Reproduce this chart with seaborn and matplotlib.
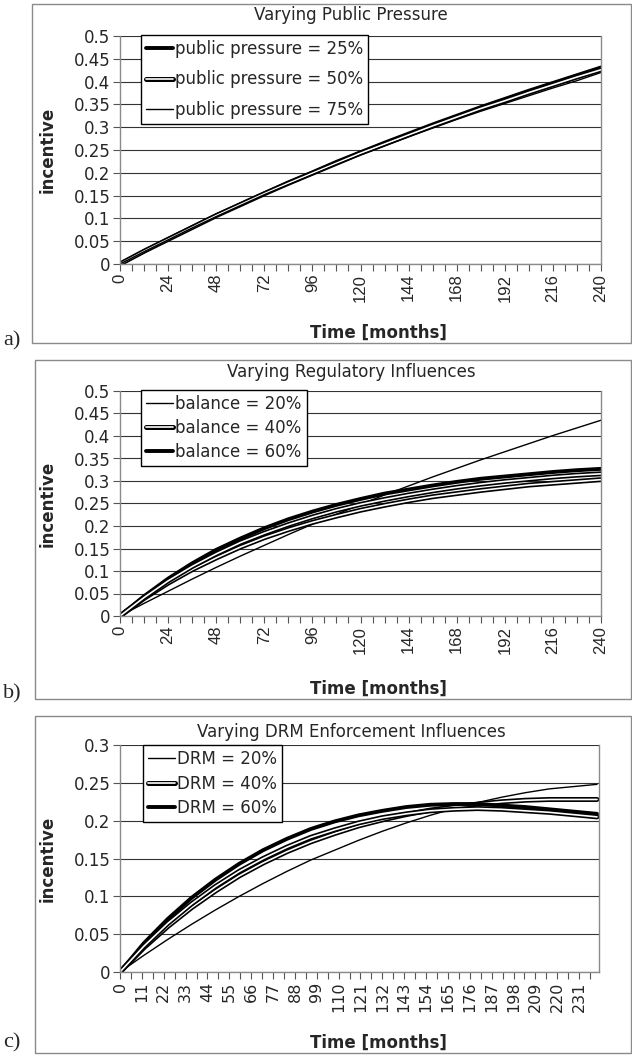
import numpy as np
import pandas as pd
import seaborn as sns
import matplotlib.pyplot as plt
import matplotlib.patheffects as pe
from matplotlib.patches import Rectangle
from matplotlib.ticker import MultipleLocator

months = list(range(0, 241, 12))

# a) public pressure
pp_labels = ["public pressure = 25%", "public pressure = 50%", "public pressure = 75%"]
pp_25 = [0, .028, .055, .081, .107, .131, .155, .179, .201, .224, .245, .266, .286, .306, .325, .344, .362, .380, .397, .414, .431]
pp_50 = [0, .028, .054, .080, .106, .130, .154, .177, .199, .221, .243, .263, .283, .303, .322, .341, .358, .376, .393, .410, .426]
pp_75 = [0, .027, .053, .079, .104, .128, .152, .174, .196, .218, .239, .259, .279, .298, .317, .335, .352, .369, .386, .402, .420]

# b) regulatory balance
bal_labels = ["balance = 20%", "balance = 40%", "balance = 60%", "balance = 80%"]
bal_20 = [0, .028, .055, .082, .108, .133, .157, .181, .204, .226, .248, .269, .289, .309, .328, .347, .365, .383, .401, .418, .435]
bal_40 = [0, .039, .073, .103, .129, .153, .174, .192, .208, .222, .235, .246, .256, .265, .272, .279, .285, .291, .295, .299, .303]
bal_60 = [0, .044, .083, .117, .147, .172, .195, .215, .232, .247, .260, .272, .281, .290, .298, .305, .310, .315, .320, .324, .327]
bal_80 = [0, .041, .078, .110, .138, .163, .184, .203, .220, .235, .248, .259, .269, .278, .286, .293, .299, .304, .309, .313, .316]

# c) DRM enforcement
drm_labels = ["DRM = 20%", "DRM = 40%", "DRM = 60%", "DRM = 80%"]
drm_20 = [0, .022, .043, .063, .082, .100, .117, .133, .148, .161, .174, .186, .197, .207, .216, .224, .231, .237, .242, .245, .248]
drm_40 = [0, .032, .060, .085, .107, .127, .144, .159, .172, .183, .193, .201, .208, .214, .218, .222, .225, .227, .228, .228, .228]
drm_60 = [0, .038, .070, .098, .122, .143, .161, .176, .189, .199, .207, .213, .218, .221, .222, .222, .220, .218, .215, .212, .209]
drm_80 = [0, .034, .064, .090, .113, .133, .150, .165, .178, .188, .197, .204, .209, .213, .215, .216, .215, .213, .211, .208, .205]

y_ticks_a = [0, 0.05, 0.1, 0.15, 0.2, 0.25, 0.3, 0.35, 0.4, 0.45, 0.5]
y_tick_labels_a = ["0", "0.05", "0.1", "0.15", "0.2", "0.25", "0.3", "0.35", "0.4", "0.45", "0.5"]
y_ticks_c = [0, 0.05, 0.1, 0.15, 0.2, 0.25, 0.3]
y_tick_labels_c = ["0", "0.05", "0.1", "0.15", "0.2", "0.25", "0.3"]
x_ticks_ab = list(range(0, 241, 24))
x_ticks_c = list(range(0, 232, 11))

sns.set_style("white")
plt.rcParams["font.family"] = ["DejaVu Sans"]

W, H = 632, 1057
fig = plt.figure(figsize=(W / 100, H / 100), dpi=100)


def rect(x0, y0, x1, y1):
    return [x0 / W, 1 - y1 / H, (x1 - x0) / W, (y1 - y0) / H]


styles = {
    "thick": dict(color="black", lw=2.8),
    "thin": dict(color="black", lw=1.0),
    "double": dict(color="white", lw=1.2,
                   path_effects=[pe.Stroke(linewidth=3.6, foreground="black"), pe.Normal()]),
}


def panel(box, axbox, title, title_y, series, legend_n, yticks, ylabels, ymax,
          xticks, minor, xmax, xfont, xsize, leg_box, labelspacing, letter, letter_y, xlabel_y):
    fig.add_artist(Rectangle((box[0] / W, 1 - box[3] / H), (box[2] - box[0]) / W,
                             (box[3] - box[1]) / H, transform=fig.transFigure,
                             fill=False, edgecolor="#8a8a8a", lw=1.0))
    ax = fig.add_axes(rect(*axbox))
    for vals, lab, st in series:
        sns.lineplot(x=months, y=vals, ax=ax, label=lab, legend=False, **styles[st])
    ax.set_xlim(0, xmax)
    ax.set_ylim(0, ymax)
    ax.set_yticks(yticks)
    ax.set_yticklabels(ylabels, fontsize=12)
    ax.set_xticks(xticks)
    ax.set_xticklabels([str(t) for t in xticks], rotation=90, fontsize=xsize,
                       family=xfont)
    ax.xaxis.set_minor_locator(MultipleLocator(minor))
    ax.tick_params(axis="both", which="major", direction="out", length=5, width=0.8,
                   color="#555555", left=True, bottom=True, pad=2)
    ax.tick_params(axis="x", which="minor", direction="out", length=5, width=0.8,
                   color="#555555", bottom=True)
    ax.grid(axis="y", color="#333333", lw=0.8)
    ax.set_axisbelow(True)
    for s in ["left", "bottom", "right"]:
        ax.spines[s].set_color("#8a8a8a")
        ax.spines[s].set_linewidth(1.0)
    ax.spines["top"].set_visible(False)
    ax.set_xlabel("")
    ax.set_ylabel("")
    fig.text(351 / W, 1 - title_y / H, title, ha="center", va="center", fontsize=12)
    fig.text(48 / W, 1 - (axbox[1] + axbox[3]) / 2 / H, "incentive", rotation=90,
             ha="center", va="center", fontsize=12, fontweight="bold")
    fig.text(378 / W, 1 - xlabel_y / H, "Time [months]", ha="center", va="center",
             fontsize=12, fontweight="bold")
    fig.text(3 / W, 1 - letter_y / H, letter, ha="left", va="center", fontsize=16,
             family=["Liberation Serif", "DejaVu Serif"])
    lines = ax.get_lines()[:legend_n]
    leg = ax.legend(handles=lines, labels=[l.get_label() for l in lines],
                    loc="upper left",
                    bbox_to_anchor=((leg_box[0] - axbox[0]) / (axbox[2] - axbox[0]),
                                    1 - (leg_box[1] - axbox[1]) / (axbox[3] - axbox[1])),
                    borderaxespad=0, fontsize=12, handlelength=1.6, handletextpad=0.15,
                    labelspacing=labelspacing, fancybox=False, framealpha=1,
                    edgecolor="black", borderpad=0.3)
    leg.get_frame().set_linewidth(1.0)
    return ax


panel((32, 4, 631, 343), (120, 36, 601, 264), "Varying Public Pressure", 15,
      [(pp_25, pp_labels[0], "thick"), (pp_50, pp_labels[1], "double"),
       (pp_75, pp_labels[2], "thin")], 3, y_ticks_a, y_tick_labels_a, 0.5,
      x_ticks_ab, 6, 240, ["Liberation Sans", "DejaVu Sans"], 12, (141, 35), 0.75,
      "a)", 341, 333)

panel((35, 360, 631, 699), (120, 391, 601, 616), "Varying Regulatory Influences", 372,
      [(bal_20, bal_labels[0], "thin"), (bal_40, bal_labels[1], "double"),
       (bal_60, bal_labels[2], "thick"), (bal_80, bal_labels[3], "double")], 3,
      y_ticks_a, y_tick_labels_a, 0.5, x_ticks_ab, 6, 240,
      ["Liberation Sans", "DejaVu Sans"], 12, (141, 390), 0.35, "b)", 694, 689)

panel((35, 716, 631, 1053), (120, 745, 599, 972), "Varying DRM Enforcement Influences", 732,
      [(drm_20, drm_labels[0], "thin"), (drm_40, drm_labels[1], "double"),
       (drm_60, drm_labels[2], "thick"), (drm_80, drm_labels[3], "double")], 3,
      y_ticks_c, y_tick_labels_c, 0.3, x_ticks_c, 5.5, 241,
      ["DejaVu Sans"], 11.5, (143, 745), 0.4, "c)", 1043, 1043)

fig.savefig("out.png", dpi=100)
